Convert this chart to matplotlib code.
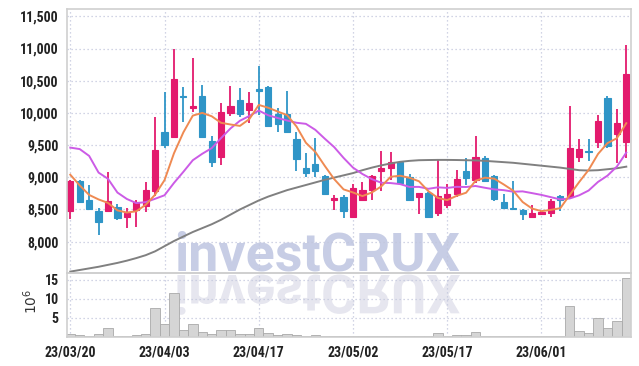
import numpy as np
import pandas as pd
import matplotlib
matplotlib.use("Agg")
import matplotlib.pyplot as plt
from matplotlib.textpath import TextPath
from matplotlib.patches import PathPatch
from matplotlib.font_manager import FontProperties
from matplotlib.transforms import Affine2D, IdentityTransform
from matplotlib.ticker import FuncFormatter

# ---------------- data ----------------
dates = ["23/03/20", "23/03/21", "23/03/22", "23/03/23", "23/03/24",
         "23/03/27", "23/03/28", "23/03/29", "23/03/30", "23/03/31",
         "23/04/03", "23/04/04", "23/04/05", "23/04/06", "23/04/07",
         "23/04/10", "23/04/11", "23/04/12", "23/04/13", "23/04/14",
         "23/04/17", "23/04/18", "23/04/19", "23/04/20", "23/04/21",
         "23/04/24", "23/04/25", "23/04/26", "23/04/27", "23/04/28",
         "23/05/02", "23/05/03", "23/05/04", "23/05/08", "23/05/09",
         "23/05/10", "23/05/11", "23/05/12", "23/05/15", "23/05/16",
         "23/05/17", "23/05/18", "23/05/19", "23/05/22", "23/05/23",
         "23/05/24", "23/05/25", "23/05/26", "23/05/30", "23/05/31",
         "23/06/01", "23/06/02", "23/06/05", "23/06/07", "23/06/08",
         "23/06/09", "23/06/12", "23/06/13", "23/06/14", "23/06/15"]

opens = [8470, 8950, 8650, 8480, 8480, 8540, 8390, 8490, 8560, 8780,
         9700, 9630, 10260, 10080, 10260, 9560, 9320, 10000, 10200, 10050,
         10370, 10400, 9980, 9980, 9600, 9150, 9200, 9020, 8650, 8700,
         8390, 8640, 8810, 9100, 9150, 9230, 9010, 8700, 8760, 8450,
         8570, 8740, 9100, 8960, 9300, 9020, 8620, 8530, 8490, 8390,
         8430, 8450, 8710, 8700, 9310, 9410, 9550, 10230, 9670, 9550]
highs = [8960, 8960, 8880, 8520, 9080, 8590, 8530, 8650, 8920, 9940,
         10330, 11000, 10400, 10850, 10440, 9640, 10160, 10420, 10390, 10330,
         10730, 10410, 10070, 10340, 9710, 9380, 9610, 9030, 8720, 8720,
         8900, 8930, 9030, 9410, 9400, 9260, 9050, 8760, 8770, 9270,
         8900, 9120, 9300, 9640, 9330, 9030, 8740, 8940, 8500, 8570,
         8470, 8660, 8720, 10100, 9590, 9590, 9970, 10260, 10060, 11050]
lows = [8350, 8610, 8500, 8100, 8460, 8340, 8220, 8230, 8460, 8710,
        9450, 9610, 9860, 10020, 9620, 9160, 9190, 9950, 9930, 9850,
        9970, 9790, 9710, 9700, 9090, 9010, 9010, 8730, 8490, 8360,
        8360, 8630, 8650, 8780, 8960, 8900, 8640, 8430, 8370, 8400,
        8530, 8700, 8880, 8910, 8920, 8630, 8510, 8490, 8340, 8380,
        8420, 8390, 8470, 8690, 9230, 9250, 9450, 9450, 9220, 9300]
closes = [8950, 8620, 8510, 8300, 8630, 8370, 8450, 8610, 8800, 9420,
          9500, 10530, 10240, 10100, 9630, 9240, 10020, 10110, 9990, 10160,
          10340, 9800, 9820, 9710, 9280, 9070, 9090, 8740, 8680, 8480,
          8830, 8810, 9020, 9150, 9230, 8910, 8650, 8750, 8380, 8710,
          8740, 8980, 8990, 9310, 8950, 8660, 8530, 8510, 8430, 8440,
          8460, 8630, 8640, 9460, 9440, 9400, 9870, 9480, 9840, 10610]
prior_closes = [8850, 9570, 10890, 9600, 10500, 9450, 9250, 8650, 8900]
# long moving average (grey line)
ma_long = [7535, 7560, 7585, 7610, 7640, 7670, 7705, 7745, 7790, 7850,
           7930, 8010, 8080, 8150, 8210, 8270, 8340, 8420, 8500, 8570,
           8640, 8700, 8750, 8800, 8840, 8880, 8920, 8960, 8995, 9030,
           9065, 9110, 9150, 9185, 9215, 9240, 9255, 9265, 9268, 9270,
           9270, 9268, 9265, 9262, 9255, 9245, 9235, 9225, 9210, 9195,
           9180, 9165, 9150, 9130, 9110, 9105, 9110, 9125, 9140, 9165]
volume_m = [0.8, 0.5, 0.3, 0.8, 2.3, 0.3, 0.3, 0.5, 0.8, 7.5,
            3.4, 11.5, 1.8, 3.4, 1.2, 0.8, 1.8, 1.8, 0.8, 0.8,
            2.3, 1.0, 0.5, 0.8, 0.5, 0.35, 0.5, 0.25, 0.3, 0.25,
            0.2, 0.3, 0.3, 0.3, 0.3, 0.2, 0.2, 0.2, 0.2, 1.0,
            0.2, 0.5, 0.5, 1.2, 0.3, 0.25, 0.3, 0.25, 0.3, 0.25,
            0.2, 0.2, 0.3, 8.2, 1.6, 1.0, 4.9, 2.3, 4.2, 15.4]
price_ticks = [8000, 8500, 9000, 9500, 10000, 10500, 11000, 11500]
volume_ticks = [5, 10, 15]
tick_every = 10
watermark = "investCRUX"

# ---------------- derived ----------------
n = len(closes)
x = np.arange(n)
allc = pd.Series(prior_closes + closes, dtype=float)
ma5 = allc.rolling(5).mean().to_numpy()[-n:]
ma10 = allc.rolling(10).mean().to_numpy()[-n:]
o = np.array(opens, float); c = np.array(closes, float)
hi = np.array(highs, float); lo = np.array(lows, float)
up = c >= o

RED = "#e31a6d"
BLUE = "#2f95c7"

W, H = 639, 366
fig = plt.figure(figsize=(W / 100, H / 100), dpi=100)
fig.patch.set_facecolor("white")


def rect(l, t, r, b):
    return [l / W, 1 - b / H, (r - l) / W, (b - t) / H]


ax = fig.add_axes(rect(67, 9.3, 631, 272.7))
axv = fig.add_axes(rect(67, 272.7, 631, 337), sharex=ax)

tick_fp = FontProperties(family=["Roboto Condensed", "Roboto", "DejaVu Sans"],
                         weight="bold", stretch="condensed", size=10)
grid_kw = dict(color="#c3c7dd", linewidth=0.9, linestyle=(0, (1, 2.2)))

for a in (ax, axv):
    a.set_facecolor("none")
    for s in a.spines.values():
        s.set_color("#cfcfcf")
        s.set_linewidth(1.2)
    a.tick_params(length=0, colors="#222222")
    a.set_axisbelow(True)

# wicks + bodies
colors = np.where(up, RED, BLUE)
ax.vlines(x, lo, hi, colors=colors, linewidth=1.3, zorder=2)
body_bottom = np.minimum(o, c)
body_h = np.abs(c - o)
ax.bar(x, body_h, bottom=body_bottom, width=0.66, color=colors,
       edgecolor=colors, linewidth=0.8, zorder=2)

# moving averages
ax.plot(x, ma_long, color="#808080", linewidth=1.4, zorder=3)
ax.plot(x, ma10, color="#cc5be6", linewidth=1.4, zorder=3)
ax.plot(x, ma5, color="#ef8a52", linewidth=1.4, zorder=3)

ax.set_xlim(-0.35, n - 0.5)
ax.set_ylim(7518, 11609)
ax.set_yticks(price_ticks)
ax.yaxis.set_major_formatter(FuncFormatter(lambda v, p: f"{int(v):,}"))
tick_idx = list(range(0, n, tick_every))
ax.set_xticks(tick_idx)
ax.grid(True, **grid_kw)
plt.setp(ax.get_xticklabels(), visible=False)
for t in ax.get_yticklabels():
    t.set_fontproperties(tick_fp)
ax.tick_params(axis="y", pad=6)

# volume
axv.bar(x, volume_m, width=1.0, color="#d5d5d5", edgecolor="#a9a9a9",
        linewidth=0.6, zorder=2)
axv.set_ylim(0, 16.9)
axv.set_yticks(volume_ticks)
axv.set_xticks(tick_idx)
axv.set_xticklabels([dates[i] for i in tick_idx])
axv.grid(True, **grid_kw)
for t in axv.get_yticklabels() + axv.get_xticklabels():
    t.set_fontproperties(tick_fp)
axv.tick_params(axis="y", pad=6)
axv.tick_params(axis="x", pad=6)
fig.text(31 / W, 1 - 301 / H, r"$10^6$", rotation=90, ha="center",
         va="center", fontsize=10, color="#333333")

# watermark (real text) with a mirrored reflection below it
wm_fp = FontProperties(family=["Roboto", "DejaVu Sans"], weight="bold")
tp = TextPath((0, 0), watermark, size=100, prop=wm_fp)
ext = tp.get_extents()
sc = 283.0 / ext.width
x0 = 177
base_top = H - 270.5
fig.text((x0 - ext.x0 * sc) / W, base_top / H, watermark,
         fontproperties=wm_fp, fontsize=100 * sc * 0.72, color="#c7cde5",
         ha="left", va="baseline", zorder=-1)
tr_bot = Affine2D().translate(-ext.x0, 0).scale(sc, -sc).translate(x0, H - 275.0)
fig.add_artist(PathPatch(tr_bot.transform_path(tp), facecolor="#e6e6ef",
                         edgecolor="none", transform=IdentityTransform(), zorder=-1))

fig.savefig("out.png", dpi=100, facecolor="white")
